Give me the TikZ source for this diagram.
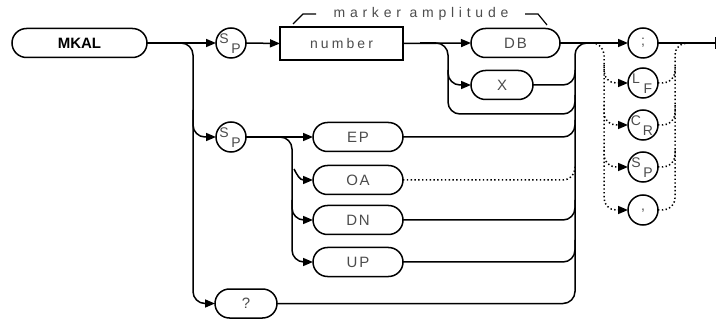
\documentclass[tikz,border=0pt]{standalone}
\usepackage{fontspec}
\setmainfont{Liberation Sans}
\newfontfamily\plotfont[LetterSpace=22]{Liberation Sans}
\newfontfamily\plotkw[LetterSpace=12]{Liberation Sans}
\newfontfamily\plotwide[LetterSpace=34]{Liberation Sans}
\usetikzlibrary{arrows.meta}
\begin{document}
\begin{tikzpicture}[x=1pt,y=-1pt,
  line width=1.5pt,
  >={Triangle[length=10pt,width=8pt]},
  every node/.style={inner sep=0pt,outer sep=0pt},
  kw/.style={draw,rounded corners=14.5pt,minimum height=29pt,text=black!70,
    font=\plotkw\fontsize{15}{15}\selectfont},
  term/.style={draw,circle,minimum size=30pt},
  lt/.style={text=black!70,font=\fontsize{14}{14}\selectfont},
  rc/.style={rounded corners=12pt},
  dots/.style={line width=1.5pt,dash pattern=on 1.4pt off 2.4pt}]
\useasboundingbox (0,0) rectangle (717,320);

% nodes
\node[draw,rounded corners=14.5pt,minimum width=135pt,minimum height=29pt,
  font=\bfseries\fontsize{15}{15}\selectfont] (mkal) at (79.5,43) {MKAL};
\node[term] (sp1) at (231,43) {};
\node[lt] at ([xshift=-7pt,yshift=4pt]sp1.center) {S};
\node[lt] at ([xshift=5pt,yshift=-6pt]sp1.center) {P};
\node[draw,minimum width=123pt,minimum height=33pt,text=black!70,
  font=\plotfont\fontsize{14}{14}\selectfont] (num) at (341.5,43.5) {number};
\node[text=black!70,font=\plotwide\fontsize{14}{14}\selectfont] (lbl) at (421,14) {marker amplitude};
\node[kw,minimum width=89pt] (db) at (515.5,43) {DB};
\node[kw,minimum width=62pt] (xx) at (502,85) {X};

\node[term] (sp2) at (231,137) {};
\node[lt] at ([xshift=-7pt,yshift=4pt]sp2.center) {S};
\node[lt] at ([xshift=5pt,yshift=-6pt]sp2.center) {P};
\node[kw,minimum width=90pt] (ep) at (358,137) {EP};
\node[kw,minimum width=90pt] (oa) at (358,180) {OA};
\node[kw,minimum width=90pt] (dn) at (358,220) {DN};
\node[kw,minimum width=90pt] (up) at (358,262) {UP};
\node[kw,minimum width=62pt] (qq) at (246,303.5) {?};

\node[term] (semi) at (643,43) {};
\node[lt] at (semi.center) {;};
\node[term] (lf) at (643,83) {};
\node[lt] at ([xshift=-7pt,yshift=4pt]lf.center) {L};
\node[lt] at ([xshift=5pt,yshift=-6pt]lf.center) {F};
\node[term] (cr) at (643,125) {};
\node[lt] at ([xshift=-7pt,yshift=4pt]cr.center) {C};
\node[lt] at ([xshift=5pt,yshift=-6pt]cr.center) {R};
\node[term] (sp3) at (643,167) {};
\node[lt] at ([xshift=-7pt,yshift=4pt]sp3.center) {S};
\node[lt] at ([xshift=5pt,yshift=-6pt]sp3.center) {P};
\node[term] (comma) at (643,210) {};
\node[lt] at ([yshift=-1pt]comma.center) {,};

\coordinate (endp) at (716,43);

% label bracket
\draw[line width=1.2pt] (293,24) -- (303,14) -- (316,14);
\draw[line width=1.2pt] (525,14) -- (538,14) -- (547,25);

% main line
\draw[->] (mkal.east) -- (sp1.west);
\draw[->] (sp1.east) -- (num.west);
\draw[->] (num.east) -- (db.west);
\draw[->] (db.east) -- (semi.west);
\draw (semi.east) -- (endp);
\draw[line width=1.2pt] (715.8,37) -- (715.8,49);

% first branch
\draw[->,rc] (170,43) -- (193,43) -- (193,303.5) -- (qq.west);
\draw[->,rc] (193,110) -- (193,137) -- (sp2.west);

% after number
\draw[->,rc] (420,43) -- (448,43) -- (448,85) -- (xx.west);
\draw[rc] (448,70) -- (448,114) -- (575,114) -- (575,95);

% SP2 branch
\draw[->] (sp2.east) -- (ep.west);
\draw[->,rc] (265,137) -- (292,137) -- (292,262) -- (up.west);
\draw[->,rc] (292,200) -- (292,220) -- (dn.west);
\draw[->] (294,169) .. controls (297,175) and (300,180) .. (oa.west);

% right collector
\draw[rc] (qq.east) -- (575,303.5) -- (575,43) -- (600,43);
\draw[rc] (xx.east) -- (575,85) -- (575,70);
\draw[rc] (ep.east) -- (575,137) -- (575,120);
\draw[dots,rc] (oa.east) -- (575,180) -- (575,165);
\draw[rc] (dn.east) -- (575,220) -- (575,200);
\draw[rc] (up.east) -- (575,262) -- (575,240);

% terminators
\draw[dots,->,rc] (592,43) -- (604,43) -- (604,210) -- (comma.west);
\draw[dots,->,rc] (604,65) -- (604,83) -- (lf.west);
\draw[dots,->,rc] (604,105) -- (604,125) -- (cr.west);
\draw[dots,->,rc] (604,150) -- (604,167) -- (sp3.west);
\draw[dots,rc] (comma.east) -- (675,210) -- (675,43) -- (690,43);
\draw[dots,rc] (lf.east) -- (675,83) -- (675,65);
\draw[dots,rc] (cr.east) -- (675,125) -- (675,105);
\draw[dots,rc] (sp3.east) -- (675,167) -- (675,150);
\end{tikzpicture}
\end{document}
